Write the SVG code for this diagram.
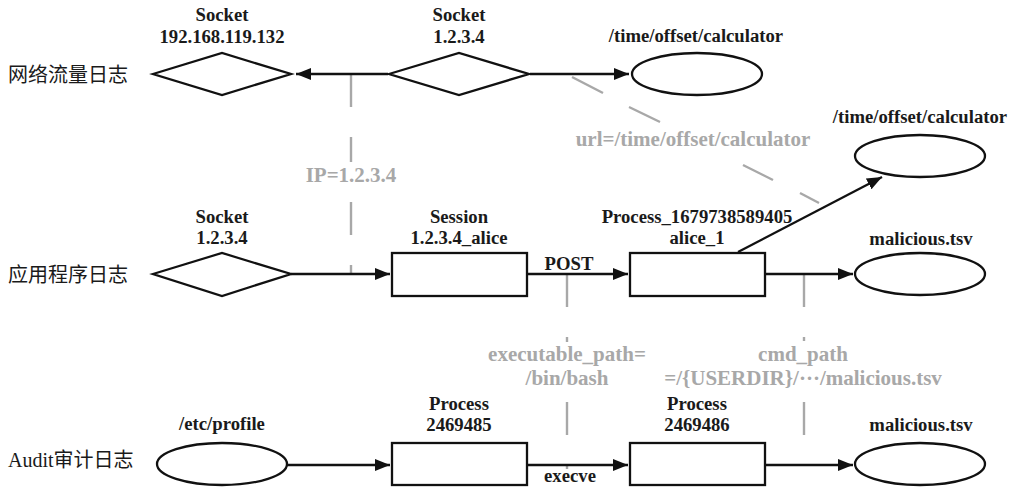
<svg xmlns="http://www.w3.org/2000/svg" width="1011" height="488" viewBox="0 0 1011 488">
  <style>
    .shape { fill: #ffffff; stroke: #111111; stroke-width: 2.3; }
    .edge { fill: none; stroke: #111111; stroke-width: 2.3; }
    .link { fill: none; stroke: #a8a8a8; stroke-width: 2.4; }
    .lbl { font-family: "Liberation Serif", "Times New Roman", serif; font-weight: bold; font-size: 18.7px; fill: #1a1a1a; text-anchor: middle; }
    .attr { font-family: "Liberation Serif", "Times New Roman", serif; font-weight: bold; font-size: 21px; fill: #a8a8a8; text-anchor: middle; }
    .row { font-family: "Liberation Serif", "Noto Sans CJK SC", serif; font-size: 20px; fill: #1a1a1a; }
  </style>
  <defs>
    <marker id="arrow" markerUnits="userSpaceOnUse" markerWidth="15" markerHeight="12" refX="15" refY="6" orient="auto">
      <path d="M0,0 L15,6 L0,12 z" fill="#111111"/>
    </marker>
  </defs>
  <rect width="1011" height="488" fill="#ffffff"/>

  <!-- row titles -->
  <g id="row-titles">
    <text class="row" x="8" y="82">网络流量日志</text>
    <text class="row" x="8" y="282">应用程序日志</text>
    <text class="row" x="8" y="467">Audit审计日志</text>
  </g>

  <!-- attribute links (dashed grey) -->
  <g id="attribute-links">
    <!-- IP=1.2.3.4 -->
    <line class="link" x1="351" y1="75" x2="351" y2="107"/>
    <line class="link" x1="351" y1="137" x2="351" y2="162"/>
    <line class="link" x1="351" y1="202" x2="351" y2="235"/>
    <line class="link" x1="351" y1="265" x2="351" y2="274"/>
    <text class="attr" x="351" y="182">IP=1.2.3.4</text>
    <!-- url=/time/offset/calculator -->
    <line class="link" x1="572" y1="77" x2="603" y2="93"/>
    <line class="link" x1="629" y1="107" x2="660" y2="122"/>
    <line class="link" x1="743" y1="165" x2="773" y2="180"/>
    <line class="link" x1="800" y1="193" x2="819" y2="203"/>
    <text class="attr" x="693" y="146">url=/time/offset/calculator</text>
    <!-- executable_path=/bin/bash -->
    <line class="link" x1="567" y1="275" x2="567" y2="307"/>
    <line class="link" x1="567" y1="337" x2="567" y2="342"/>
    <line class="link" x1="567" y1="402" x2="567" y2="435"/>
    <line class="link" x1="567" y1="465" x2="567" y2="469"/>
    <text class="attr" x="567" y="361">executable_path=</text>
    <text class="attr" x="567" y="385">/bin/bash</text>
    <!-- cmd_path -->
    <line class="link" x1="804" y1="275" x2="804" y2="307"/>
    <line class="link" x1="804" y1="337" x2="804" y2="341"/>
    <line class="link" x1="804" y1="402" x2="804" y2="435"/>
    <text class="attr" x="803" y="361">cmd_path</text>
    <text class="attr" x="803" y="385">=/{USERDIR}/···/malicious.tsv</text>
  </g>

  <!-- connectors -->
  <g id="connectors">
    <line class="edge" x1="388" y1="74" x2="296" y2="74" marker-end="url(#arrow)"/>
    <line class="edge" x1="530" y1="74" x2="629" y2="74" marker-end="url(#arrow)"/>
    <line class="edge" x1="291" y1="274" x2="390" y2="274" marker-end="url(#arrow)"/>
    <line class="edge" x1="527" y1="274" x2="628" y2="274" marker-end="url(#arrow)"/>
    <text class="lbl" x="569" y="270">POST</text>
    <line class="edge" x1="738" y1="252" x2="882" y2="177" marker-end="url(#arrow)"/>
    <line class="edge" x1="765" y1="274" x2="853" y2="274" marker-end="url(#arrow)"/>
    <line class="edge" x1="287" y1="465" x2="390" y2="465" marker-end="url(#arrow)"/>
    <line class="edge" x1="527" y1="465" x2="628" y2="465" marker-end="url(#arrow)"/>
    <text class="lbl" x="570" y="482">execve</text>
    <line class="edge" x1="765" y1="465" x2="853" y2="465" marker-end="url(#arrow)"/>
  </g>

  <!-- network traffic row -->
  <g id="socket-192-168-119-132">
    <polygon class="shape" points="153,74 222,53 291,74 222,95"/>
    <text class="lbl" x="222" y="21">Socket</text>
    <text class="lbl" x="222" y="43">192.168.119.132</text>
  </g>
  <g id="socket-net-1-2-3-4">
    <polygon class="shape" points="389,74 459,53 529,74 459,95"/>
    <text class="lbl" x="459" y="21">Socket</text>
    <text class="lbl" x="459" y="43">1.2.3.4</text>
  </g>
  <g id="file-calculator-net">
    <ellipse class="shape" cx="697" cy="74" rx="65" ry="21"/>
    <text class="lbl" x="696" y="42">/time/offset/calculator</text>
  </g>

  <!-- application row -->
  <g id="file-calculator-app">
    <ellipse class="shape" cx="920" cy="156" rx="65" ry="21"/>
    <text class="lbl" x="920" y="123">/time/offset/calculator</text>
  </g>
  <g id="socket-app-1-2-3-4">
    <polygon class="shape" points="153,274 222,253 291,274 222,296"/>
    <text class="lbl" x="222" y="223">Socket</text>
    <text class="lbl" x="222" y="244">1.2.3.4</text>
  </g>
  <g id="session-alice">
    <rect class="shape" x="392" y="253" width="135" height="43"/>
    <text class="lbl" x="459" y="223">Session</text>
    <text class="lbl" x="459" y="244">1.2.3.4_alice</text>
  </g>
  <g id="process-app-alice">
    <rect class="shape" x="630" y="253" width="135" height="43"/>
    <text class="lbl" x="697" y="223">Process_1679738589405</text>
    <text class="lbl" x="697" y="244">alice_1</text>
  </g>
  <g id="file-malicious-app">
    <ellipse class="shape" cx="920" cy="274" rx="65" ry="21"/>
    <text class="lbl" x="921" y="245">malicious.tsv</text>
  </g>

  <!-- audit row -->
  <g id="file-etc-profile">
    <ellipse class="shape" cx="222" cy="464" rx="65" ry="21"/>
    <text class="lbl" x="222" y="430">/etc/profile</text>
  </g>
  <g id="process-2469485">
    <rect class="shape" x="392" y="443" width="135" height="42"/>
    <text class="lbl" x="459" y="410">Process</text>
    <text class="lbl" x="459" y="431">2469485</text>
  </g>
  <g id="process-2469486">
    <rect class="shape" x="630" y="443" width="135" height="42"/>
    <text class="lbl" x="697" y="410">Process</text>
    <text class="lbl" x="697" y="431">2469486</text>
  </g>
  <g id="file-malicious-audit">
    <ellipse class="shape" cx="920" cy="464" rx="65" ry="21"/>
    <text class="lbl" x="921" y="431">malicious.tsv</text>
  </g>
</svg>
